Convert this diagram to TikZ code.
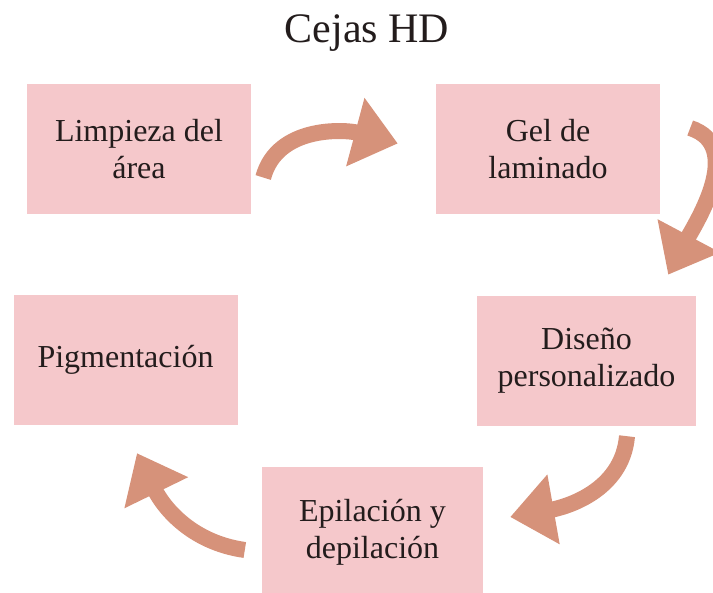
\documentclass[tikz,border=0pt]{standalone}
\usepackage{fontspec}
\setmainfont{Liberation Serif}
\usetikzlibrary{arrows.meta}
\definecolor{boxpink}{RGB}{245,200,203}
\definecolor{arrowtan}{RGB}{214,146,122}
\definecolor{inkdark}{RGB}{35,28,28}
\begin{document}
\begin{tikzpicture}[x=1pt,y=1pt,
  stepbox/.style={fill=boxpink,minimum width=224pt,minimum height=130pt,inner sep=0pt,align=center,text=inkdark,font=\fontsize{32}{37}\selectfont},
  curl/.style={draw=arrowtan,line width=16pt,-{Triangle[width=68pt,length=44pt]}}]
\useasboundingbox (0,0) rectangle (713,-593);
\clip (0,0) rectangle (713,-593);
\node[anchor=base,text=inkdark,font=\fontsize{42}{48}\selectfont] (title) at (367,-43) {Cejas HD};
\node[stepbox] (lim) at (139,-149.5) {Limpieza del\\área};
\node[stepbox] (gel) at (548,-149.5) {Gel de\\laminado};
\node[stepbox,minimum width=219pt] (dis) at (586.5,-361) {Diseño\\personalizado};
\node[stepbox,minimum width=221pt] (epi) at (372.5,-532) {Epilación y\\depilación};
\node[stepbox] (pig) at (125.5,-360) {Pigmentación};
\coordinate (c1s) at ([shift={(12,-28)}]lim.east);
\coordinate (c1e) at ([shift={(-38,6)}]gel.west);
\coordinate (c2s) at ([shift={(30,21.5)}]gel.east);
\coordinate (c2e) at ([shift={(8,-60)}]gel.south east);
\coordinate (c3s) at ([shift={(40.5,-10)}]dis.south);
\coordinate (c3e) at ([shift={(27,15)}]epi.east);
\coordinate (c4s) at ([shift={(-17,-18)}]epi.west);
\coordinate (c4e) at ([shift={(11.5,-28)}]pig.south);
\draw[curl] (c1s) to[out=75,in=165] (c1e);
\draw[curl] (c2s) to[out=-18,in=62] (c2e);
\draw[curl] (c3s) to[out=-95,in=10] (c3e);
\draw[curl] (c4s) to[out=172,in=-64] (c4e);
\end{tikzpicture}
\end{document}
